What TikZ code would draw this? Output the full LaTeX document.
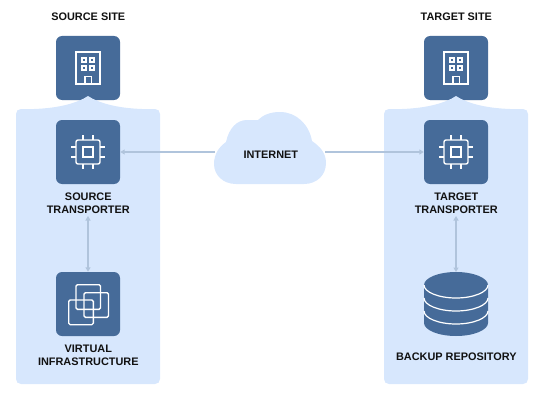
\documentclass[tikz,border=0pt]{standalone}
\usepackage{fontspec}
\setmainfont{Liberation Sans}
\usetikzlibrary{arrows.meta}
\definecolor{dark}{HTML}{466B99}
\definecolor{pale}{HTML}{D7E7FD}
\definecolor{conn}{HTML}{B0C4DC}
\definecolor{ink}{HTML}{111111}
\tikzset{
  tile/.style={fill=dark,rounded corners=6pt,minimum size=64pt,inner sep=0pt,draw=none},
  lbl/.style={font=\bfseries\fontsize{10.9}{13}\selectfont,text=ink,align=center,inner sep=0pt},
  panelbox/.style={fill=pale,draw=none},
  link/.style={draw=conn,line width=1.4pt},
  glyph/.style={draw=white,line width=1.4pt},
  building/.pic={
    \draw[glyph] (-12,-16) rectangle (12,16);
    \foreach \a in {-4,4}\foreach \b in {-8,0}
      \draw[glyph,line width=1.3pt] (\a-2.1,\b-2.1) rectangle (\a+2.1,\b+2.1);
    \draw[glyph] (-3.2,16) -- (-3.2,8.5) -- (3.2,8.5) -- (3.2,16);
  },
  chip/.pic={
    \draw[glyph,rounded corners=2pt] (-12,-12) rectangle (12,12);
    \draw[glyph] (-5,-5) rectangle (5,5);
    \foreach \a in {-5,5}{
      \draw[glyph] (\a,-17) -- (\a,-12);
      \draw[glyph] (\a,12) -- (\a,17);
      \draw[glyph] (-17,\a) -- (-12,\a);
      \draw[glyph] (12,\a) -- (17,\a);
    }
  },
  vsphere/.pic={
    \draw[glyph,rounded corners=1.5pt] (-12,-19.3) rectangle (12.5,5.3);
    \draw[glyph,rounded corners=1.5pt] (-4,-11.3) rectangle (20.5,13.3);
    \draw[glyph,rounded corners=1.5pt] (-19.3,-4) rectangle (5.3,20.7);
  }
}
\begin{document}
\begin{tikzpicture}[x=1pt,y=-1pt]
\useasboundingbox (0,0) rectangle (545,401);
% panels
\foreach \dx in {0,368}{
  \begin{scope}[xshift=\dx pt]
  \fill[panelbox] (21,109) -- (34,109) .. controls (60,108) and (77,103) .. (88,96)
    .. controls (99,103) and (116,108) .. (142,109) -- (155,109)
    .. controls (158,109) and (160,111) .. (160,114) -- (160,379)
    .. controls (160,382) and (158,384) .. (155,384) -- (21,384)
    .. controls (18,384) and (16,382) .. (16,379) -- (16,114)
    .. controls (16,111) and (18,109) .. (21,109) -- cycle;
  \end{scope}
}
\node[tile] (srcsite) at (88,68) {};
\node[tile] (tgtsite) at (456,68) {};
\fill[pale] (78.5,101) .. controls (82,99.5) and (85,98) .. (88,96) .. controls (91,98) and (94,99.5) .. (97.5,101) -- cycle;
\fill[pale] (446.5,101) .. controls (450,99.5) and (453,98) .. (456,96) .. controls (459,98) and (462,99.5) .. (465.5,101) -- cycle;
\node[tile] (srcchip) at (88,152) {};
\node[tile] (tgtchip) at (456,152) {};
\node[tile] (virt) at (88,304) {};
\pic at (srcsite.center) {building};
\pic at (tgtsite.center) {building};
\pic at (srcchip.center) {chip};
\pic at (tgtchip.center) {chip};
\pic at (virt.center) {vsphere};
% repository
\fill[dark] (424,285) .. controls (424,278) and (438.3,272) .. (456,272)
  .. controls (473.7,272) and (488,278) .. (488,285) -- (488,323)
  .. controls (488,330) and (473.7,336) .. (456,336)
  .. controls (438.3,336) and (424,330) .. (424,323) -- cycle;
\foreach \yy/\yb in {285/298,298/311,311/324}
  \draw[white,line width=1.2pt] (424,\yy) .. controls (424,\yy+7) and (438.3,\yb) .. (456,\yb)
     .. controls (473.7,\yb) and (488,\yy+7) .. (488,\yy);
\coordinate (repo) at (456,272);
% cloud
\fill[pale] (236,184) -- (304,184)
  .. controls (317,184) and (326,175) .. (326,163)
  .. controls (326,152) and (319,146) .. (312,141)
  .. controls (309,124) and (296,112) .. (280,112)
  .. controls (270,112) and (263,115) .. (258,120)
  .. controls (254,120) and (251,120) .. (247,120)
  .. controls (237,120) and (229,128) .. (226,142)
  .. controls (219,147) and (214,154) .. (214,164)
  .. controls (214,175) and (223,184) .. (236,184) -- cycle;
\node[lbl] (inet) at (270.8,154.3) {INTERNET};
\coordinate (cloudw) at (215,152);
\coordinate (cloude) at (325,152);
% labels
\node[lbl] (srchead) at (88.3,16.3) {SOURCE SITE};
\node[lbl] (tgthead) at (456.3,16.3) {TARGET SITE};
\node[lbl] (srclbl) at (88.3,203.2) {SOURCE\\TRANSPORTER};
\node[lbl] (tgtlbl) at (456.3,203.2) {TARGET\\TRANSPORTER};
\node[lbl] (virtlbl) at (88.3,355.2) {VIRTUAL\\INFRASTRUCTURE};
\node[lbl] (repolbl) at (456.3,356.4) {BACKUP REPOSITORY};
% connectors
\coordinate (srcdown) at (88,216);
\coordinate (tgtdown) at (456,216);
\draw[link,-{Triangle[length=4.5pt,width=5pt]}] (cloudw) -- (srcchip.east);
\draw[link,-{Triangle[length=4.5pt,width=5pt]}] (cloude) -- (tgtchip.west);
\draw[link,{Triangle[length=4.5pt,width=5pt]}-{Triangle[length=4.5pt,width=5pt]}] (srcdown) -- (virt.north);
\draw[link,{Triangle[length=4.5pt,width=5pt]}-{Triangle[length=4.5pt,width=5pt]}] (tgtdown) -- (repo);
\end{tikzpicture}
\end{document}
